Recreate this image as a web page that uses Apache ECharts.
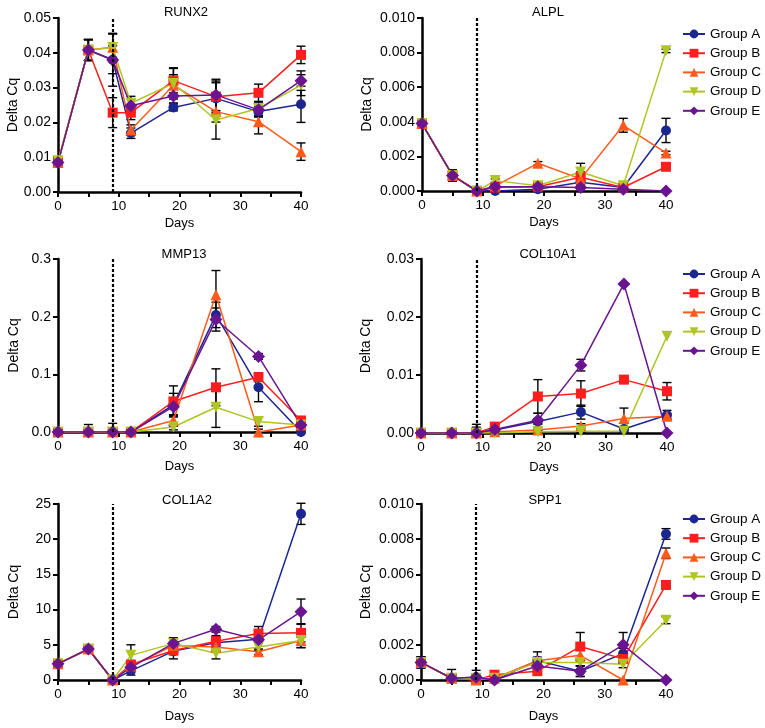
<!DOCTYPE html>
<html>
<head>
<meta charset="utf-8">
<script src="https://cdn.jsdelivr.net/npm/echarts@6/dist/echarts.min.js"></script>
<style>
html,body{margin:0;padding:0;background:#fff;}
#chart{width:765px;height:728px;}
</style>
</head>
<body>
<div id="chart"></div>
<script>
// ---------- DATA ----------
const days = [0, 5, 9, 12, 19, 26, 33, 40];
const groups = ['Group A', 'Group B', 'Group C', 'Group D', 'Group E'];
const genes = ['RUNX2', 'ALPL', 'MMP13', 'COL10A1', 'COL1A2', 'SPP1'];
const yTicksMax = [0.05, 0.010, 0.3, 0.03, 25, 0.010];
const yTicksStep = [0.01, 0.002, 0.1, 0.01, 5, 0.002];
const yTickDecimals = [2, 3, 1, 2, 0, 3];
const dividerDay = 9;

// values per gene: rows = Group A..E, columns = days
const runx2 = [
  [0.0085, 0.0408, 0.0380, 0.0169, 0.0243, 0.0269, 0.0231, 0.0252],
  [0.0085, 0.0408, 0.0228, 0.0228, 0.0320, 0.0274, 0.0285, 0.0394],
  [0.0085, 0.0408, 0.0416, 0.0178, 0.0307, 0.0231, 0.0202, 0.0116],
  [0.0090, 0.0408, 0.0415, 0.0255, 0.0312, 0.0207, 0.0240, 0.0307],
  [0.0085, 0.0408, 0.0379, 0.0248, 0.0276, 0.0279, 0.0236, 0.0320]
];
const runx2Err = [
  [0.001, 0.003, 0.004, 0.0015, 0.001, 0.0045, 0.0015, 0.0052],
  [0.001, 0.003, 0.0043, 0.002, 0.0035, 0.0045, 0.0025, 0.0025],
  [0.001, 0.003, 0.004, 0.0015, 0.003, 0.003, 0.0035, 0.0025],
  [0.001, 0.003, 0.004, 0.002, 0.0045, 0.0055, 0.002, 0.003],
  [0.001, 0.003, 0.0075, 0.002, 0.002, 0.0045, 0.002, 0.0028]
];
const alpl = [
  [0.0039, 0.0009, 0.0, 0.0000, 0.0001, 0.0005, 0.0002, 0.0035],
  [0.0039, 0.0009, 0.0, 0.0002, 0.00025, 0.0008, 0.0002, 0.0014],
  [0.0039, 0.0009, 0.0, 0.0003, 0.0016, 0.0007, 0.0038, 0.0022],
  [0.0039, 0.0009, 0.0, 0.0006, 0.0003, 0.0011, 0.0003, 0.0081],
  [0.0039, 0.0009, 0.0, 0.00025, 0.00025, 0.0002, 0.0001, 0.0]
];
const alplErr = [
  [0.0001, 0.0003, 0, 0.0001, 0.0001, 0.0002, 0.0001, 0.0007],
  [0.0001, 0.0003, 0, 0.0001, 0.0001, 0.0003, 0.0001, 0.0001],
  [0.0001, 0.0003, 0, 0.0001, 0.0001, 0.0002, 0.0004, 0.0001],
  [0.0001, 0.0003, 0, 0.0001, 0.0001, 0.0005, 0.0001, 0.0001],
  [0.0001, 0.0003, 0, 0.0001, 0.0001, 0.0001, 0.0001, 0]
];
const mmp13 = [
  [0, 0, 0, 0, 0.047, 0.203, 0.0775, 0.0],
  [0, 0, 0, 0, 0.053, 0.0775, 0.095, 0.020],
  [0, 0, 0, 0, 0.020, 0.238, 0.0, 0.012],
  [0, 0, 0, 0, 0.0087, 0.043, 0.018, 0.012],
  [0, 0, 0, 0, 0.044, 0.195, 0.131, 0.012]
];
const mmp13Err = [
  [0, 0.013, 0.015, 0, 0.02, 0.022, 0.025, 0.003],
  [0, 0, 0, 0, 0.027, 0.032, 0.005, 0.005],
  [0, 0, 0, 0, 0.01, 0.042, 0.005, 0.003],
  [0, 0, 0, 0, 0.005, 0.035, 0.008, 0.003],
  [0, 0, 0, 0, 0.015, 0.02, 0.005, 0.005]
];
const col10a1 = [
  [0, 0, 0, 0.0005, 0.0020, 0.0036, 0.0007, 0.0031],
  [0, 0, 0, 0.0011, 0.0063, 0.0068, 0.0092, 0.0072],
  [0, 0, 0, 0.0002, 0.0005, 0.0012, 0.0025, 0.0029],
  [0, 0, 0, 0.0000, 0.0002, 0.0003, 0.0003, 0.0167],
  [0, 0, 0, 0.0006, 0.0022, 0.0117, 0.0257, 0.0]
];
const col10a1Err = [
  [0, 0, 0.0015, 0.0002, 0.0005, 0.0012, 0.0004, 0.0008],
  [0, 0, 0.0008, 0.0003, 0.0029, 0.0022, 0.0003, 0.0015],
  [0, 0, 0, 0.0001, 0.0002, 0.0004, 0.0018, 0.0004],
  [0, 0, 0, 0, 0.0002, 0.0002, 0.0002, 0],
  [0, 0, 0.001, 0.0002, 0.0012, 0.001, 0.0002, 0]
];
const col1a2 = [
  [2.3, 4.4, 0, 1.3, 4.1, 5.3, 5.8, 23.6],
  [2.3, 4.4, 0, 2.2, 4.2, 5.5, 6.6, 6.7],
  [2.3, 4.4, 0, 2.0, 4.9, 4.7, 4.0, 5.6],
  [2.3, 4.4, 0, 3.5, 5.2, 3.8, 4.7, 5.6],
  [2.3, 4.4, 0, 1.8, 5.2, 7.2, 5.7, 9.7]
];
const col1a2Err = [
  [0.3, 0.3, 0.1, 0.6, 0.5, 0.8, 0.5, 1.5],
  [0.3, 0.3, 0.1, 0.5, 1.2, 0.8, 1.0, 1.3],
  [0.3, 0.3, 0.1, 0.5, 0.5, 0.5, 0.4, 1.0],
  [0.3, 0.3, 0.1, 1.5, 0.8, 0.8, 0.5, 1.0],
  [0.3, 0.3, 0.1, 0.5, 0.7, 0.4, 0.5, 1.8]
];
const spp1 = [
  [0.0010, 0.0001, 0.00015, 0.0000, 0.0011, 0.0005, 0.0015, 0.0083],
  [0.0010, 0.0001, 0.0000, 0.0003, 0.0005, 0.0019, 0.0012, 0.0054],
  [0.0010, 0.0001, 0.0000, 0.0001, 0.0011, 0.0014, 0.0000, 0.0072],
  [0.0010, 0.0001, 0.0001, 0.0001, 0.0010, 0.0010, 0.0009, 0.0034],
  [0.0010, 0.0001, 0.00015, 0.0000, 0.0008, 0.0005, 0.0020, 0.0]
];
const spp1Err = [
  [0.0003, 0.0005, 0.0004, 0, 0.0005, 0.0003, 0.0003, 0.0003],
  [0.0003, 0.0002, 0.0002, 0.0001, 0.0002, 0.0008, 0.0002, 0.0002],
  [0.0003, 0.0002, 0.0002, 0, 0.0002, 0.0003, 0, 0.0003],
  [0.0003, 0.0002, 0.0002, 0, 0.0002, 0.0002, 0.0002, 0.0002],
  [0.0003, 0.0002, 0.0002, 0, 0.0003, 0.0003, 0.0007, 0]
];

// ---------- STYLE / LAYOUT ----------
const geneVals = [runx2, alpl, mmp13, col10a1, col1a2, spp1];
const geneErrs = [runx2Err, alplErr, mmp13Err, col10a1Err, col1a2Err, spp1Err];
const colors = ['#1b2690', '#ff1e1e', '#ff5a1c', '#b0c523', '#6a158f'];
const symbols = ['circle', 'rect', 'triangle', 'triangle', 'diamond'];
const symRot = [0, 0, 0, 180, 0];
const symSize = [10, 10, 11, 11, 13];
const FONT = "'Liberation Sans', Arial, Helvetica, sans-serif";

const grids = [
  {left: 58, top: 18, width: 243, height: 174},
  {left: 422, top: 18, width: 244, height: 173},
  {left: 58, top: 259, width: 243, height: 173},
  {left: 421, top: 259, width: 246, height: 174},
  {left: 58, top: 504, width: 243, height: 176},
  {left: 421, top: 504, width: 245, height: 176}
];
const titlePos = [[181, 1], [543, 1], [179, 243], [543, 243], [182, 489], [540, 489]];
const xNameGap = [25, 25, 28, 28, 30, 30];

const option = {
  animation: false,
  backgroundColor: '#fff',
  textStyle: {fontFamily: FONT},
  title: genes.map((g, i) => ({
    text: g, left: titlePos[i][0], top: titlePos[i][1], textAlign: 'center',
    textStyle: {fontSize: 13, fontWeight: 'normal', color: '#000', fontFamily: FONT}
  })),
  grid: grids,
  legend: [22, 262, 507].map(t => ({
    data: groups, orient: 'vertical', left: 677, top: t,
    itemWidth: 22, itemHeight: 11, itemGap: 5.2,
    textStyle: {fontSize: 13.5, color: '#000', fontFamily: FONT},
    selectedMode: false
  })),
  xAxis: grids.map((g, i) => ({
    gridIndex: i, type: 'value', min: 0, max: 40, interval: 5,
    name: 'Days', nameLocation: 'middle', nameGap: xNameGap[i],
    nameTextStyle: {fontSize: 13, color: '#000', fontFamily: FONT},
    axisLine: {lineStyle: {color: '#000', width: 2.5}},
    axisTick: {length: 5, lineStyle: {color: '#000', width: 2}},
    axisLabel: {color: '#000', fontSize: 13.5, margin: 7, fontFamily: FONT,
      formatter: v => (v % 10 === 0 ? String(v) : '')},
    splitLine: {show: false}
  })),
  yAxis: grids.map((g, i) => ({
    gridIndex: i, type: 'value', min: 0, max: yTicksMax[i], interval: yTicksStep[i],
    name: 'Delta Cq', nameLocation: 'middle', nameRotate: 90,
    nameGap: (i % 2 === 0) ? 37 : 48,
    nameTextStyle: {fontSize: 14, color: '#000', fontFamily: FONT},
    axisLine: {show: true, lineStyle: {color: '#000', width: 2.5}},
    axisTick: {show: true, length: 5, lineStyle: {color: '#000', width: 2}},
    axisLabel: {color: '#000', fontSize: 14, margin: 7, fontFamily: FONT,
      formatter: v => v.toFixed(yTickDecimals[i])},
    splitLine: {show: false}
  })),
  series: []
};

function errRender(params, api) {
  const x = api.value(0), lo = Math.max(0, api.value(1)), hi = api.value(2);
  const p1 = api.coord([x, hi]);
  const p2 = api.coord([x, lo]);
  const cw = 4.5;
  const st = {stroke: '#000', lineWidth: 1.4, fill: null};
  return {
    type: 'group',
    children: [
      {type: 'line', shape: {x1: p1[0], y1: p1[1], x2: p2[0], y2: p2[1]}, style: st},
      {type: 'line', shape: {x1: p1[0] - cw, y1: p1[1], x2: p1[0] + cw, y2: p1[1]}, style: st},
      {type: 'line', shape: {x1: p2[0] - cw, y1: p2[1], x2: p2[0] + cw, y2: p2[1]}, style: st}
    ]
  };
}

genes.forEach((gene, gi) => {
  option.series.push({
    type: 'line', xAxisIndex: gi, yAxisIndex: gi, data: [], silent: true,
    markLine: {
      silent: true, symbol: 'none', label: {show: false},
      lineStyle: {color: '#000', type: [3, 2], width: 2.2},
      data: [{xAxis: dividerDay}]
    }
  });
  groups.forEach((grp, k) => {
    const vals = geneVals[gi][k];
    const errs = geneErrs[gi][k];
    option.series.push({
      type: 'custom', xAxisIndex: gi, yAxisIndex: gi, z: 3,
      renderItem: errRender, silent: true,
      data: days.map((d, i) => [d, vals[i] - errs[i], vals[i] + errs[i]]).filter((r, i) => errs[i] > 0)
    });
  });
  groups.forEach((grp, k) => {
    const vals = geneVals[gi][k];
    option.series.push({
      name: grp, type: 'line', xAxisIndex: gi, yAxisIndex: gi, z: 4,
      data: days.map((d, i) => [d, vals[i]]),
      symbol: symbols[k], symbolSize: symSize[k], symbolRotate: symRot[k],
      showAllSymbol: true,
      lineStyle: {color: colors[k], width: 1.5},
      itemStyle: {color: colors[k], borderWidth: 0},
      color: colors[k]
    });
  });
});

const chart = echarts.init(document.getElementById('chart'), null, {renderer: 'canvas'});
chart.setOption(option);
</script>
</body>
</html>
